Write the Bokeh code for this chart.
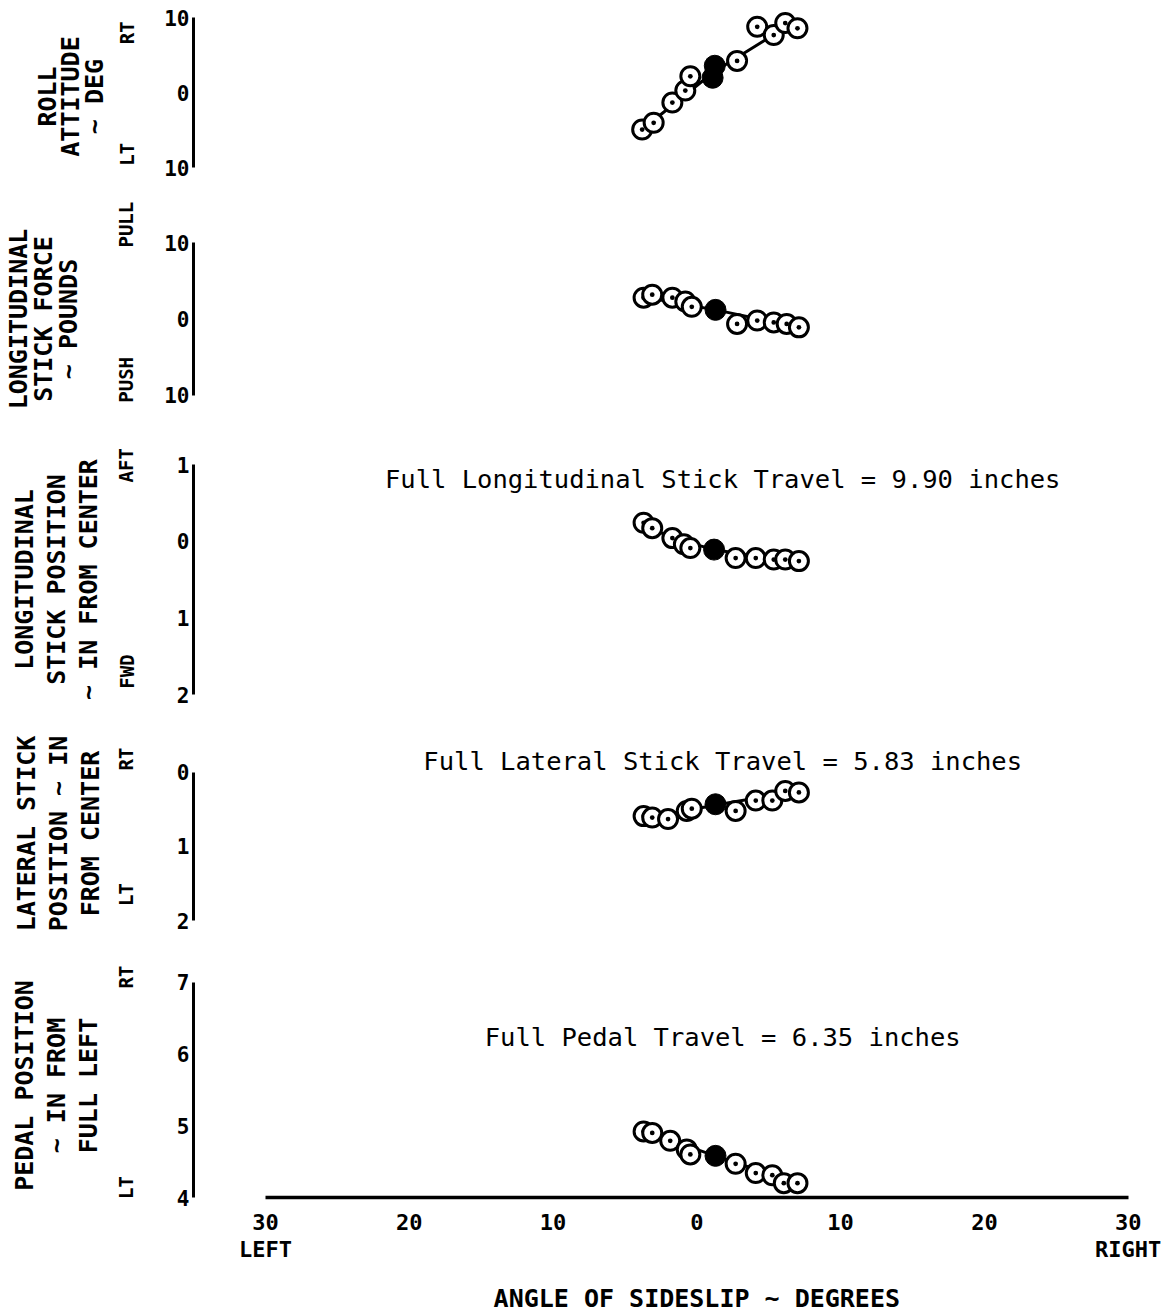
from bokeh.plotting import figure
from bokeh.models import Range1d, LinearAxis, FixedTicker, Label
from bokeh.layouts import column
from bokeh.embed import file_html
from bokeh.resources import INLINE

FONT = "DejaVu Sans Mono"

# ---------------- data (angle of sideslip, deg; + = right) ----------------
roll_x = [-3.8, -3.0, -1.7, -0.8, -0.45, 2.8, 4.2, 5.35, 6.15, 7.0]
roll_y = [-4.9, -4.0, -1.3, 0.3, 2.2, 4.25, 8.8, 7.7, 9.3, 8.6]
roll_trim_x = [1.25, 1.1]
roll_trim_y = [3.6, 2.0]
roll_fair_x = [-3.8, 1.2, 5.4]
roll_fair_y = [-4.9, 2.8, 7.8]

force_x = [-3.7, -3.1, -1.7, -0.8, -0.35, 2.8, 4.2, 5.35, 6.25, 7.1]
force_y = [2.8, 3.2, 2.8, 2.3, 1.6, -0.65, -0.2, -0.45, -0.65, -1.1]
force_trim_x = [1.3]
force_trim_y = [1.2]
force_fair_x = [-3.7, 1.3, 7.1]
force_fair_y = [2.9, 1.2, -1.1]

longpos_x = [-3.7, -3.1, -1.7, -0.9, -0.45, 2.7, 4.1, 5.35, 6.15, 7.1]
longpos_y = [0.24, 0.17, 0.04, -0.04, -0.09, -0.22, -0.22, -0.24, -0.24, -0.26]
longpos_trim_x = [1.2]
longpos_trim_y = [-0.11]
longpos_fair_x = [-3.7, -1.7, 1.2, 4.1, 7.1]
longpos_fair_y = [0.22, 0.04, -0.11, -0.2, -0.26]

lat_x = [-3.7, -3.1, -2.0, -0.7, -0.35, 2.7, 4.1, 5.25, 6.15, 7.1]
lat_y = [-0.59, -0.61, -0.63, -0.52, -0.49, -0.52, -0.38, -0.38, -0.25, -0.27]
lat_trim_x = [1.3]
lat_trim_y = [-0.43]
lat_fair_x = [-3.7, 1.3, 7.1]
lat_fair_y = [-0.63, -0.44, -0.25]

pedal_x = [-3.7, -3.1, -1.85, -0.7, -0.45, 2.7, 4.1, 5.25, 6.05, 7.0]
pedal_y = [4.92, 4.90, 4.79, 4.67, 4.60, 4.47, 4.34, 4.31, 4.20, 4.20]
pedal_trim_x = [1.3]
pedal_trim_y = [4.58]
pedal_fair_x = [-3.7, 1.3, 7.0]
pedal_fair_y = [4.92, 4.58, 4.2]

x_ticks = [-30, -20, -10, 0, 10, 20, 30]
x_tick_labels = ["30\nLEFT", "20", "10", "0", "10", "20", "30\nRIGHT"]
x_title = "ANGLE OF SIDESLIP ~ DEGREES"

panels = [
    dict(title="ROLL\nATTITUDE\n~ DEG", x=roll_x, y=roll_y, tx=roll_trim_x, ty=roll_trim_y,
         fx=roll_fair_x, fy=roll_fair_y,
         ticks=[-10, 0, 10], labels=["10", "0", "10"],
         dirs=[(8.0, "RT"), (-8.2, "LT")], note=None),
    dict(title="LONGITUDINAL\nSTICK FORCE\n~ POUNDS", x=force_x, y=force_y, tx=force_trim_x, ty=force_trim_y,
         fx=force_fair_x, fy=force_fair_y,
         ticks=[-10, 0, 10], labels=["10", "0", "10"],
         dirs=[(12.4, "PULL"), (-8.0, "PUSH")], note=None),
    dict(title="LONGITUDINAL\nSTICK POSITION\n~ IN FROM CENTER", x=longpos_x, y=longpos_y,
         tx=longpos_trim_x, ty=longpos_trim_y, fx=longpos_fair_x, fy=longpos_fair_y,
         ticks=[-2, -1, 0, 1], labels=["2", "1", "0", "1"],
         dirs=[(0.99, "AFT"), (-1.70, "FWD")],
         note=("Full Longitudinal Stick Travel = 9.90 inches", 0.81)),
    dict(title="LATERAL STICK\nPOSITION ~ IN\nFROM CENTER", x=lat_x, y=lat_y, tx=lat_trim_x, ty=lat_trim_y,
         fx=lat_fair_x, fy=lat_fair_y,
         ticks=[-2, -1, 0], labels=["2", "1", "0"],
         dirs=[(0.18, "RT"), (-1.65, "LT")],
         note=("Full Lateral Stick Travel = 5.83 inches", 0.16)),
    dict(title="PEDAL POSITION\n~ IN FROM\nFULL LEFT", x=pedal_x, y=pedal_y, tx=pedal_trim_x, ty=pedal_trim_y,
         fx=pedal_fair_x, fy=pedal_fair_y,
         ticks=[4, 5, 6, 7], labels=["4", "5", "6", "7"],
         dirs=[(7.07, "RT"), (4.14, "LT")],
         note=("Full Pedal Travel = 6.35 inches", 6.24)),
]

# ---------------- layout geometry (pixels / ranges) ----------------
geom = [
    dict(yr=(-12.5, 11.5), bounds=(-10, 10), fh=180, bt=6, bb=11, dstand=24, lstand=4, lh=0.8),
    dict(yr=(-14, 14), bounds=(-10, 10), fh=213, bt=15, bb=3, dstand=24, lstand=30, lh=0.85),
    dict(yr=(-2, 1), bounds=(-2, 1), fh=230, bt=36, bb=38, dstand=36, lstand=10, lh=1.1),
    dict(yr=(-2, 0.35), bounds=(-2, 0), fh=174, bt=14, bb=32, dstand=36, lstand=8, lh=1.1),
    dict(yr=(4, 7.12), bounds=(4, 7), fh=224, bt=21, bb=70, dstand=36, lstand=10, lh=1.1),
]

X_RANGE = (-35, 30.02)
BL, BR, FW = 193, 46, 935

figs = []
for i, (pn, g) in enumerate(zip(panels, geom)):
    p = figure(frame_width=FW, frame_height=g["fh"],
               x_range=Range1d(*X_RANGE), y_range=Range1d(*g["yr"]),
               x_axis_location=None, y_axis_location=None,
               output_backend="svg", toolbar_location=None,
               min_border_left=BL, min_border_right=BR,
               min_border_top=g["bt"], min_border_bottom=g["bb"])
    p.outline_line_color = None
    p.grid.visible = False

    ax = LinearAxis(ticker=FixedTicker(ticks=pn["ticks"]),
                    major_label_overrides=dict(zip(pn["ticks"], pn["labels"])),
                    bounds=g["bounds"], axis_line_width=3, axis_line_color="black",
                    major_tick_line_color=None, major_tick_in=0, major_tick_out=0,
                    minor_tick_line_color=None, minor_tick_in=0, minor_tick_out=0,
                    major_label_standoff=4, major_label_text_font=FONT,
                    major_label_text_font_size="21px", major_label_text_font_style="bold",
                    major_label_text_color="black")
    p.add_layout(ax, "left")

    dpos = [d[0] for d in pn["dirs"]]
    dlab = [d[1] for d in pn["dirs"]]
    ax2 = LinearAxis(ticker=FixedTicker(ticks=dpos),
                     major_label_overrides=dict(zip(dpos, dlab)),
                     axis_line_color=None,
                     major_tick_line_color=None, major_tick_in=0, major_tick_out=0,
                     minor_tick_line_color=None, minor_tick_in=0, minor_tick_out=0,
                     major_label_orientation="parallel", major_label_standoff=g["dstand"],
                     major_label_text_font=FONT, major_label_text_font_size="19px",
                     major_label_text_font_style="bold", major_label_text_color="black",
                     axis_label=pn["title"], axis_label_standoff=g["lstand"],
                     axis_label_text_font=FONT, axis_label_text_font_size="25px",
                     axis_label_text_font_style="bold", axis_label_text_color="black",
                     axis_label_text_line_height=g["lh"])
    p.add_layout(ax2, "left")

    p.line(pn["fx"], pn["fy"], line_color="black", line_width=3)
    p.scatter(pn["x"], pn["y"], marker="circle_dot", size=19, fill_color="white",
              line_color="black", line_width=3)
    p.scatter(pn["tx"], pn["ty"], marker="circle", size=21, fill_color="black",
              line_color="black")

    if pn["note"] is not None:
        p.add_layout(Label(x=1.8, y=pn["note"][1], text=pn["note"][0],
                           text_align="center", text_baseline="middle",
                           text_font=FONT, text_font_size="25.5px", text_color="black"))

    if i == len(panels) - 1:
        xax = LinearAxis(ticker=FixedTicker(ticks=x_ticks),
                         major_label_overrides=dict(zip(x_ticks, x_tick_labels)),
                         bounds=(-30, 30), axis_line_width=3.5, axis_line_color="black",
                         major_tick_line_color=None, major_tick_in=0, major_tick_out=0,
                         minor_tick_line_color=None, minor_tick_in=0, minor_tick_out=0,
                         major_label_standoff=12, major_label_text_font=FONT,
                         major_label_text_font_size="22px", major_label_text_font_style="bold",
                         major_label_text_color="black", major_label_text_line_height=1.1)
        p.add_layout(xax, "below")
    figs.append(p)

# strip holding the shared x-axis title, aligned with the panels' x scale
t = figure(frame_width=FW, frame_height=48,
           x_range=Range1d(*X_RANGE), y_range=Range1d(0, 1),
           x_axis_location=None, y_axis_location=None,
           output_backend="svg", toolbar_location=None,
           min_border_left=BL, min_border_right=BR,
           min_border_top=0, min_border_bottom=0)
t.outline_line_color = None
t.grid.visible = False
t.add_layout(Label(x=0, y=0.36, text=x_title, text_align="center",
                   text_baseline="middle", text_font=FONT, text_font_size="25px",
                   text_font_style="bold", text_color="black"))
figs.append(t)

layout = column(*figs, spacing=0)
open("out.html", "w").write(file_html(layout, INLINE))
